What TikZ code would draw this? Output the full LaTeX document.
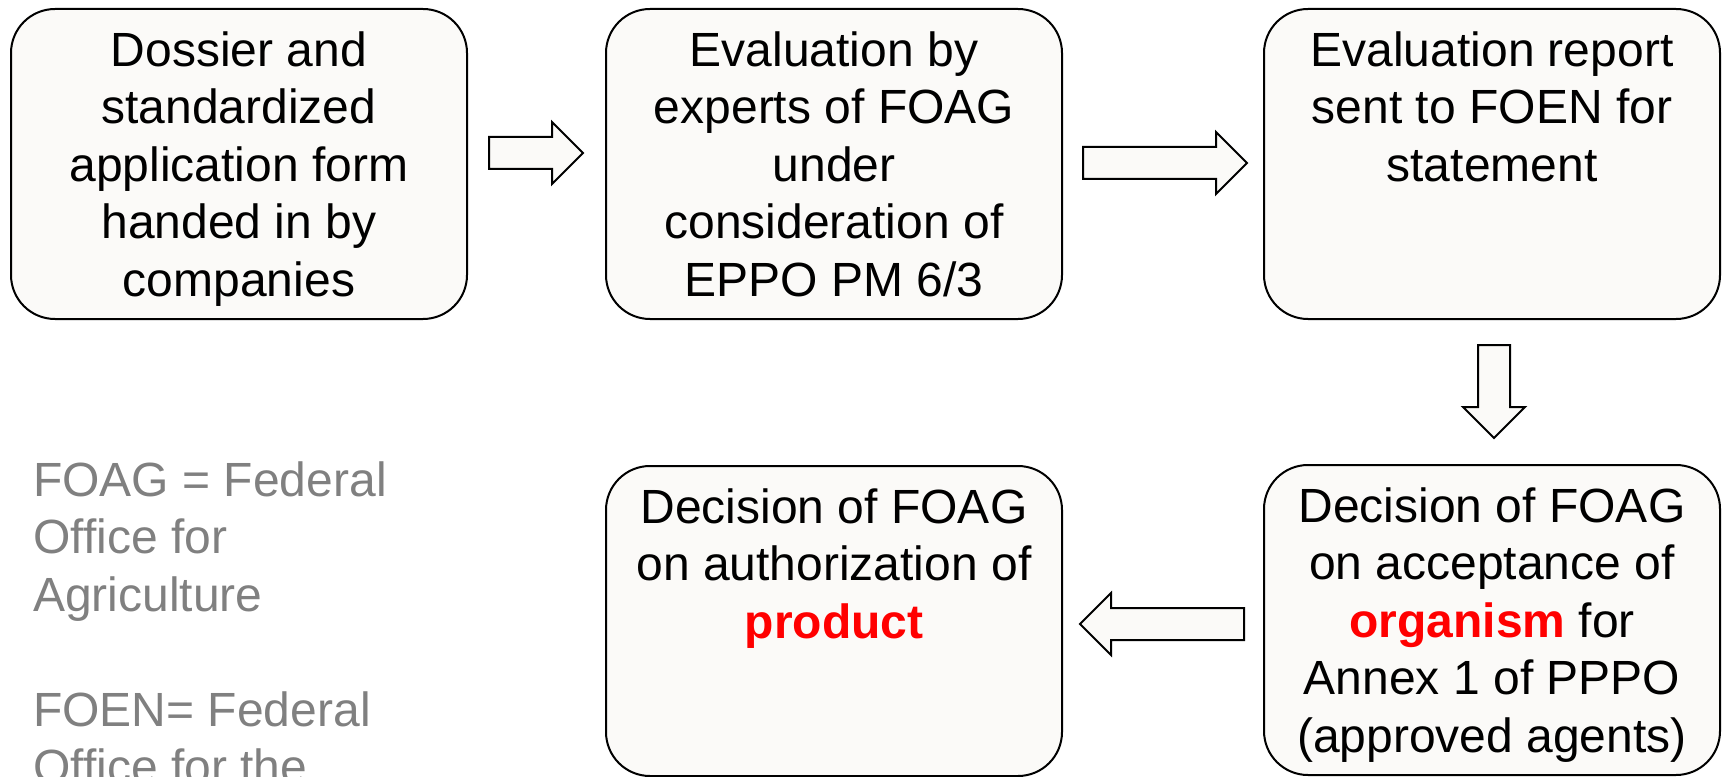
\documentclass[tikz,border=0pt]{standalone}
\usepackage{fontspec}
\setmainfont{Liberation Sans}
\usepackage{xcolor}
\usetikzlibrary{shapes.arrows}

\definecolor{boxfill}{RGB}{251,250,248}
\definecolor{notegray}{RGB}{128,128,128}
\newcommand{\boxfont}{\fontsize{36}{43.1}\selectfont}
\newcommand{\boxtext}[1]{\begin{minipage}[c][232.5pt][t]{342pt}\centering\rule{0pt}{43.1pt}#1\end{minipage}}
\newcommand{\hl}[1]{{\color{red}\bfseries #1}}

\tikzset{
  stepbox/.style={draw=black, line width=1.5pt, rounded corners=33pt, fill=boxfill, inner sep=0pt, font=\boxfont},
  blockarrow/.style={single arrow, draw=black, line width=1.5pt, fill=boxfill, inner xsep=0pt, inner ysep=11.25pt,
    minimum width=45pt, single arrow head extend=11.25pt, single arrow head indent=0pt, anchor=tail}
}

\begin{document}
\begin{tikzpicture}[x=0.75pt,y=0.75pt,yscale=-1,xscale=1]
\useasboundingbox (0,0) rectangle (1723,777);

% Boxes
\node (dossier) [stepbox] at (239,164) {\boxtext{Dossier and\\standardized\\application form\\handed in by\\companies}};
\node (evaluation) [stepbox] at (834,164) {\boxtext{Evaluation by\\experts of FOAG\\under\\consideration of\\EPPO PM 6/3}};
\node (report) [stepbox] at (1492,164) {\boxtext{Evaluation report\\sent to FOEN for\\statement}};
\node (acceptance) [stepbox] at (1492,620) {\boxtext{Decision of FOAG\\on acceptance of\\\hl{organism} for\\Annex 1 of PPPO\\(approved agents)}};
\node (authorization) [stepbox] at (834,621) {\boxtext{Decision of FOAG\\on authorization of\\\hl{product}}};

% Block arrows (placed by their tails)
\node (arrA) [blockarrow, minimum height=70.5pt] at (488,153) {};
\node (arrB) [blockarrow, minimum height=123pt] at (1082,163) {};
\node (arrC) [blockarrow, minimum height=69.75pt, shape border rotate=270, inner xsep=11.25pt, inner ysep=0pt] at (1494,344) {};
\node (arrD) [blockarrow, minimum height=123pt, shape border rotate=180] at (1245,624) {};

% Abbreviations
\node (abbrev) [anchor=north west, inner sep=0pt, align=left, font=\boxfont, text=notegray] at (33,438.5)
  {\rule{0pt}{43.1pt}FOAG = Federal\\Office for\\Agriculture\\[43.1pt]FOEN= Federal\\Office for the};

\end{tikzpicture}
\end{document}
